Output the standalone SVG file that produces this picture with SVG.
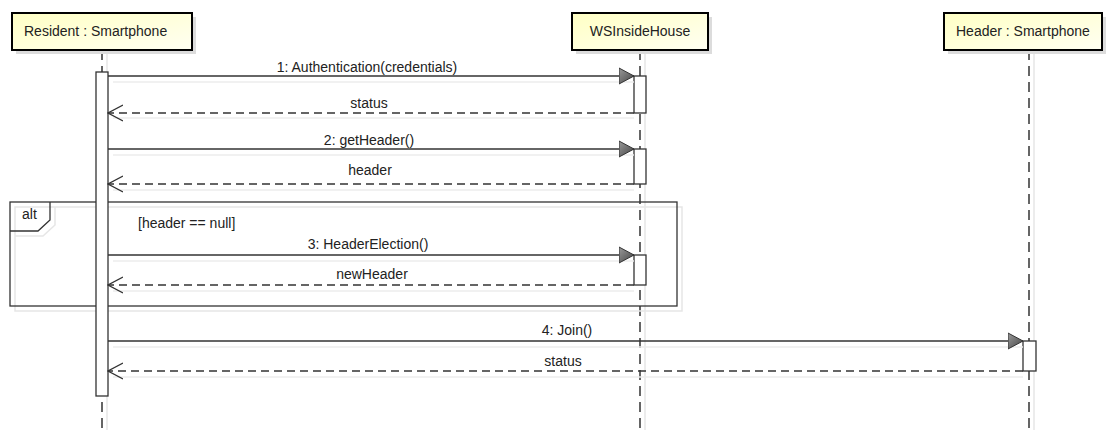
<svg xmlns="http://www.w3.org/2000/svg" width="1106" height="430" viewBox="0 0 1106 430">
<style>
.bg{fill:#ffffff}
.box{stroke:#000;stroke-width:2;fill:url(#boxfill)}
.shadow{fill:#dcdcdc}
.t{font-family:"Liberation Sans",Arial,sans-serif;font-size:14px;fill:#222}
.mid{text-anchor:middle}
.life{stroke:#333;stroke-width:1.5;stroke-dasharray:10,6;fill:none}
.lifesh{stroke:#e6e6e6;stroke-width:1.5;fill:none}
.act{fill:#fff;stroke:#333;stroke-width:1.3}
.msg{stroke:#333;stroke-width:1.3;fill:none;marker-end:url(#filled)}
.ret{stroke:#333;stroke-width:1.3;fill:none;stroke-dasharray:8,5;marker-end:url(#open)}
.msh{stroke:#ececec;stroke-width:1.5;fill:none}
.frame{fill:none;stroke:#333;stroke-width:1.3}
.framesh{fill:none;stroke:#e6e6e6;stroke-width:1.5}
</style>
<defs>
<linearGradient id="boxfill" x1="0" y1="0" x2="1" y2="1">
<stop offset="0" stop-color="#ffffc4"/>
<stop offset="1" stop-color="#fffff2"/>
</linearGradient>
<linearGradient id="tri" x1="0" y1="0" x2="1" y2="1">
<stop offset="0" stop-color="#9a9a9a"/>
<stop offset="1" stop-color="#444"/>
</linearGradient>
<marker id="filled" viewBox="0 0 16 18" refX="15" refY="9" markerWidth="16" markerHeight="18" markerUnits="userSpaceOnUse" orient="auto">
<path d="M0,1 L15,9 L0,17 Z" fill="url(#tri)" stroke="#333" stroke-width="1"/>
</marker>
<marker id="open" viewBox="0 0 16 18" refX="15" refY="9" markerWidth="16" markerHeight="18" markerUnits="userSpaceOnUse" orient="auto">
<path d="M0,1 L15,9 L0,17" fill="none" stroke="#333" stroke-width="1.3"/>
</marker>
</defs>
<rect class="bg" x="0" y="0" width="1106" height="430"/>

<g id="lifelines">
<line class="lifesh" x1="107" y1="54" x2="107" y2="430"/>
<line class="lifesh" x1="645" y1="54" x2="645" y2="430"/>
<line class="lifesh" x1="1034" y1="54" x2="1034" y2="430"/>
<line class="life" x1="102" y1="50" x2="102" y2="430"/>
<line class="life" x1="640" y1="50" x2="640" y2="430"/>
<line class="life" x1="1029" y1="50" x2="1029" y2="430"/>
</g>

<g id="alt-frame">
<rect class="framesh" x="15" y="207" width="667" height="104"/>
<path class="framesh" d="M15,236 L43,236 L55,225 L55,207"/>
<rect class="frame" x="10" y="202" width="667" height="104"/>
<path class="frame" d="M10,231 L38,231 L50,220 L50,202"/>
<text class="t" x="22" y="219">alt</text>
<text class="t" x="138" y="228">[header == null]</text>
</g>

<g id="resident">
<rect class="shadow" x="16" y="17" width="180" height="37"/>
<rect class="box" x="12" y="13" width="180" height="37"/>
<text class="t" x="24" y="36">Resident : Smartphone</text>
<rect class="act" x="96" y="72" width="12" height="324"/>
</g>

<g id="wsinsidehouse">
<rect class="shadow" x="576" y="17" width="136" height="37"/>
<rect class="box" x="572" y="13" width="136" height="37"/>
<text class="t mid" x="640" y="36">WSInsideHouse</text>
<rect class="act" x="634" y="76" width="12" height="37"/>
<rect class="act" x="634" y="149" width="12" height="35"/>
<rect class="act" x="634" y="255" width="12" height="30"/>
</g>

<g id="header-smartphone">
<rect class="shadow" x="948" y="17" width="158" height="37"/>
<rect class="box" x="944" y="13" width="158" height="37"/>
<text class="t" x="956" y="36">Header : Smartphone</text>
<rect class="act" x="1023" y="341" width="13" height="30"/>
</g>

<g id="connectors">
<line class="msh" x1="113" y1="82" x2="634" y2="82"/>
<line class="msh" x1="113" y1="118" x2="634" y2="118"/>
<line class="msh" x1="113" y1="155" x2="634" y2="155"/>
<line class="msh" x1="113" y1="190" x2="634" y2="190"/>
<line class="msh" x1="113" y1="261" x2="634" y2="261"/>
<line class="msh" x1="113" y1="291" x2="634" y2="291"/>
<line class="msh" x1="113" y1="347" x2="1023" y2="347"/>
<line class="msh" x1="113" y1="377" x2="1023" y2="377"/>

<line class="msg" x1="108" y1="76" x2="634" y2="76"/>
<text class="t mid" x="367" y="72">1: Authentication(credentials)</text>
<line class="ret" x1="634" y1="113" x2="108" y2="113"/>
<text class="t mid" x="369" y="108">status</text>

<line class="msg" x1="108" y1="149" x2="634" y2="149"/>
<text class="t mid" x="369" y="145">2: getHeader()</text>
<line class="ret" x1="634" y1="184" x2="108" y2="184"/>
<text class="t mid" x="370" y="175">header</text>

<line class="msg" x1="108" y1="255" x2="634" y2="255"/>
<text class="t mid" x="368" y="249">3: HeaderElection()</text>
<line class="ret" x1="634" y1="285" x2="108" y2="285"/>
<text class="t mid" x="372" y="279">newHeader</text>

<line class="msg" x1="108" y1="341" x2="1023" y2="341"/>
<text class="t mid" x="567" y="335">4: Join()</text>
<line class="ret" x1="1023" y1="371" x2="108" y2="371"/>
<text class="t mid" x="563" y="366">status</text>
</g>
</svg>
